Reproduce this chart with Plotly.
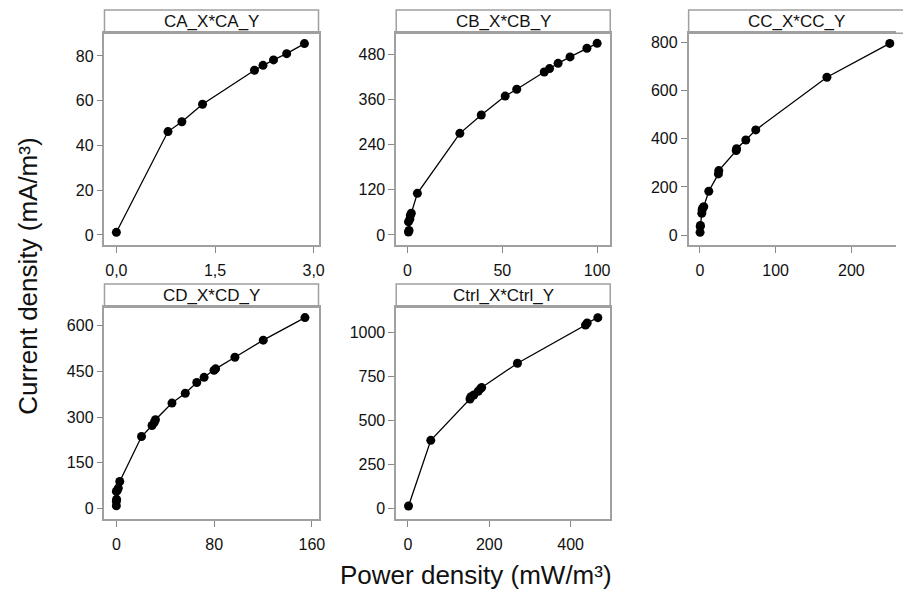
import plotly.graph_objects as go

# ---------------- data ----------------
panel_titles = ["CA_X*CA_Y", "CB_X*CB_Y", "CC_X*CC_Y", "CD_X*CD_Y", "Ctrl_X*Ctrl_Y"]

CA_X = [0.0, 0.785, 0.996, 1.31, 2.10, 2.23, 2.39, 2.59, 2.86]
CA_Y = [1.2, 46.2, 50.6, 58.4, 73.6, 75.8, 78.2, 81.0, 85.5]

CB_X = [0.5, 0.8, 0.5, 1.2, 1.5, 2.0, 5.2, 27.6, 38.9, 51.5, 57.6, 72.1, 74.9, 79.4, 85.7, 94.6, 100.0]
CB_Y = [8.0, 12.0, 35.0, 42.0, 52.0, 58.0, 110.7, 270.0, 318.7, 369.0, 387.0, 433.0, 442.0, 456.0, 473.0, 496.0, 509.0]

CC_X = [0.3, 0.5, 0.8, 2.6, 3.0, 3.5, 5.2, 11.8, 24.5, 25.0, 48.0, 48.5, 60.7, 73.8, 167.7, 250.7]
CC_Y = [11.0, 35.0, 40.0, 90.0, 104.0, 111.0, 118.0, 182.0, 254.0, 268.0, 351.0, 359.0, 395.0, 437.0, 656.0, 797.0]

CD_X = [0.0, 0.0, 0.2, 0.0, 0.8, 1.6, 2.8, 20.6, 29.2, 31.0, 32.0, 45.5, 56.4, 65.8, 71.8, 79.9, 81.2, 97.0, 120.2, 154.3]
CD_Y = [8.8, 23.0, 30.0, 56.0, 60.0, 67.0, 88.5, 236.0, 272.0, 282.0, 291.0, 345.6, 378.0, 413.0, 430.0, 453.0, 458.0, 496.0, 552.0, 626.0]

Ctrl_X = [1.6, 56.3, 152.7, 155.0, 162.0, 173.0, 178.6, 181.4, 269.4, 436.7, 440.8, 467.0]
Ctrl_Y = [13.0, 386.0, 621.0, 634.0, 644.0, 665.0, 680.0, 686.0, 824.0, 1041.0, 1053.0, 1083.0]

x_tickvals = [[0, 1.5, 3.0], [0, 50, 100], [0, 100, 200], [0, 80, 160], [0, 200, 400]]
x_ticktext = [["0,0", "1,5", "3,0"], ["0", "50", "100"], ["0", "100", "200"], ["0", "80", "160"], ["0", "200", "400"]]
y_tickvals = [[0, 20, 40, 60, 80], [0, 120, 240, 360, 480], [0, 200, 400, 600, 800],
              [0, 150, 300, 450, 600], [0, 250, 500, 750, 1000]]

x_label = "Power density (mW/m³)"
y_label = "Current density (mA/m³)"

# ---------------- layout geometry (pixels) ----------------
W, H = 903, 589
def fx(px):
    return px / W
def fy(py):
    return 1 - py / H

# panel boxes: (left, right, strip_top, plot_top, plot_bottom)
boxes = [
    (105.3, 321.0, 10.0, 33.3, 245.0),
    (399.3, 615.0, 10.0, 33.3, 245.0),
    (694.0, 903.0, 10.0, 33.3, 245.0),
    (105.3, 321.0, 284.0, 307.3, 519.0),
    (399.3, 615.0, 284.0, 307.3, 519.0),
]
x_ranges = [[-0.181, 3.074], [-5.97, 106.9], [-14.8, 258.9], [-9.7, 165.4], [-28.7, 497.5]]
y_ranges = [[-4.47, 90.1], [-26.6, 535.7], [-41.6, 839.0], [-34.4, 659.7], [-60.8, 1142.0]]

xs = [CA_X, CB_X, CC_X, CD_X, Ctrl_X]
ys = [CA_Y, CB_Y, CC_Y, CD_Y, Ctrl_Y]

FONT = "Liberation Sans, Arial, sans-serif"
FRAME = "#a0a0a0"
TICKC = "#888888"

fig = go.Figure()
layout = dict(
    width=W, height=H,
    margin=dict(l=0, r=0, t=0, b=0),
    paper_bgcolor="white", plot_bgcolor="white",
    showlegend=False,
    font=dict(family=FONT, color="black"),
)
shapes = []
annotations = []

for i in range(5):
    sfx = "" if i == 0 else str(i + 1)
    xa = "x" + sfx
    ya = "y" + sfx
    fig.add_trace(go.Scatter(
        x=xs[i], y=ys[i], mode="lines+markers",
        line=dict(color="black", width=1.3),
        marker=dict(color="black", size=9),
        xaxis=xa, yaxis=ya, cliponaxis=False,
    ))
    l, r, st, pt, pb = boxes[i]
    layout["xaxis" + sfx] = dict(
        domain=[fx(l), fx(r)], range=x_ranges[i], anchor=ya,
        tickvals=x_tickvals[i], ticktext=x_ticktext[i],
        showline=True, mirror=True, linecolor=FRAME, linewidth=1.5,
        ticks="outside", ticklen=6, tickcolor=TICKC, tickwidth=1.3,
        ticklabelstandoff=4,
        showgrid=False, zeroline=False,
        tickfont=dict(size=16, family=FONT, color="#111111"),
    )
    layout["yaxis" + sfx] = dict(
        domain=[fy(pb), fy(pt)], range=y_ranges[i], anchor=xa,
        tickvals=y_tickvals[i],
        showline=True, mirror=(i != 2), linecolor=FRAME, linewidth=1.5,
        ticks="outside", ticklen=6, tickcolor=TICKC, tickwidth=1.3,
        showgrid=False, zeroline=False,
        tickfont=dict(size=16, family=FONT, color="#111111"),
    )
    # strip
    shapes.append(dict(type="rect", xref="paper", yref="paper",
                       x0=fx(l), x1=fx(r) if i != 2 else 1.2, y0=fy(pt), y1=fy(st),
                       line=dict(color=FRAME, width=1.5), fillcolor="white", layer="below"))
    cx = (fx(l) + fx(911)) / 2 if i == 2 else (fx(l) + fx(r)) / 2
    annotations.append(dict(text=panel_titles[i], xref="paper", yref="paper",
                            x=cx, y=(fy(pt) + fy(st)) / 2,
                            xanchor="center", yanchor="middle", showarrow=False,
                            font=dict(size=17, family=FONT, color="#111111")))

annotations.append(dict(text=x_label, xref="paper", yref="paper", x=fx(480), y=fy(575),
                        xanchor="center", yanchor="middle", showarrow=False,
                        font=dict(size=26, family=FONT, color="#111111")))
annotations.append(dict(text=y_label, xref="paper", yref="paper", x=fx(28), y=fy(276),
                        xanchor="center", yanchor="middle", showarrow=False, textangle=-90,
                        font=dict(size=26, family=FONT, color="#111111")))

layout["shapes"] = shapes
layout["annotations"] = annotations
fig.update_layout(**layout)
fig.write_html("out.html", config={"displayModeBar": False},
               post_script="document.body.style.margin='0';document.body.style.overflow='hidden';")
